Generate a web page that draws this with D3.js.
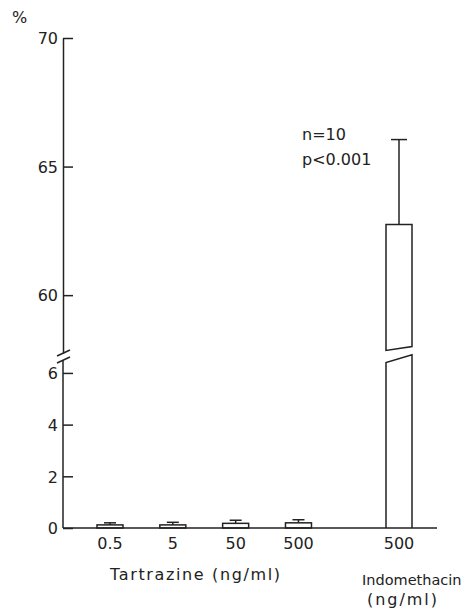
<!DOCTYPE html>
<html>
<head>
<meta charset="utf-8">
<script src="https://cdn.jsdelivr.net/npm/d3@7"></script>
<style>
  body { margin: 0; background: #fff; }
  svg text { font-family: "DejaVu Sans", sans-serif; fill: #222; }
</style>
</head>
<body>
<div id="chart"></div>
<script>

// values (% of response)
var doses = ["0.5", "5", "50", "500", "500"];
var drugs = ["Tartrazine", "Tartrazine", "Tartrazine", "Tartrazine", "Indomethacin"];
var slots = [0, 1, 2, 3, 4.6];
var means = [0.12, 0.12, 0.18, 0.2, 62.75];
var sds = [0.08, 0.1, 0.12, 0.12, 3.3];
var lowTicks = [0, 2, 4, 6];
var highTicks = [60, 65, 70];

// where the big bar is cut (left, right)
var cutLow = [6.4, 6.7];
var cutHigh = [57.85, 58.0];

var width = 461, height = 608;

var svg = d3.select("#chart").append("svg")
  .attr("width", width)
  .attr("height", height);

// two pieces of the broken y axis share the same px per unit
var yLow = d3.scaleLinear().domain([0, 6.5]).range([528, 360]);
var yHigh = d3.scaleLinear().domain([57.75, 70]).range([353, 38]);
function y(v) { return v > 30 ? yHigh(v) : yLow(v); }

var x = d3.scaleLinear().domain([0, 4.6]).range([110, 399]);
var barW = 26;
var ink = "#222";

// lower axis
svg.append("g")
  .attr("transform", "translate(63,0)")
  .call(d3.axisRight(yLow).tickValues(lowTicks).tickFormat(d3.format("d"))
    .tickSize(10).tickSizeOuter(0))
  .call(function(g) { g.select(".domain").attr("d", "M0," + yLow(0) + "V" + yLow(6.5)); });

// upper axis
svg.append("g")
  .attr("transform", "translate(63,0)")
  .call(d3.axisRight(yHigh).tickValues(highTicks).tickFormat(d3.format("d"))
    .tickSize(10).tickSizeOuter(0));

svg.selectAll(".tick text")
  .attr("x", -5)
  .attr("dy", "0.36em")
  .attr("text-anchor", "end")
  .style("font-size", "16px");

svg.selectAll(".domain, .tick line")
  .attr("stroke", ink)
  .attr("stroke-width", 1.5);

// break marks on the axis
[353, 360].forEach(function(yy) {
  svg.append("line")
    .attr("x1", 57).attr("y1", yy + 3)
    .attr("x2", 70).attr("y2", yy - 3)
    .attr("stroke", ink).attr("stroke-width", 1.5);
});

// x axis line, no ticks
svg.append("line")
  .attr("x1", 63).attr("x2", 437)
  .attr("y1", yLow(0)).attr("y2", yLow(0))
  .attr("stroke", ink).attr("stroke-width", 1.5);

svg.append("text")
  .attr("x", 12).attr("y", 23)
  .style("font-size", "16px")
  .text("%");

// bars
means.forEach(function(m, i) {
  var cx = x(slots[i]);
  var x0 = cx - barW / 2, x1 = cx + barW / 2;
  var capW = m > 30 ? 16 : 12;

  if (m > 30) {
    // lower piece up to the cut
    svg.append("path")
      .attr("d", "M" + x0 + "," + yLow(0) + "L" + x0 + "," + yLow(cutLow[0]) +
        "L" + x1 + "," + yLow(cutLow[1]) + "L" + x1 + "," + yLow(0))
      .attr("fill", "none").attr("stroke", ink).attr("stroke-width", 1.5);
    // upper piece from the cut to the mean
    svg.append("path")
      .attr("d", "M" + x0 + "," + yHigh(cutHigh[0]) + "L" + x0 + "," + yHigh(m) +
        "L" + x1 + "," + yHigh(m) + "L" + x1 + "," + yHigh(cutHigh[1]) + "Z")
      .attr("fill", "none").attr("stroke", ink).attr("stroke-width", 1.5);
  } else {
    svg.append("rect")
      .attr("x", x0).attr("width", barW)
      .attr("y", yLow(m)).attr("height", yLow(0) - yLow(m))
      .attr("fill", "none").attr("stroke", ink).attr("stroke-width", 1.5);
  }

  // error bar (mean + SD)
  svg.append("line")
    .attr("x1", cx).attr("x2", cx)
    .attr("y1", y(m)).attr("y2", y(m + sds[i]))
    .attr("stroke", ink).attr("stroke-width", 1.5);
  svg.append("line")
    .attr("x1", cx - capW / 2).attr("x2", cx + capW / 2)
    .attr("y1", y(m + sds[i])).attr("y2", y(m + sds[i]))
    .attr("stroke", ink).attr("stroke-width", 1.5);

  svg.append("text")
    .attr("x", cx).attr("y", 549)
    .attr("text-anchor", "middle")
    .style("font-size", "16px")
    .text(doses[i]);
});

svg.append("text")
  .attr("x", 110).attr("y", 580)
  .attr("textLength", 170)
  .attr("lengthAdjust", "spacing")
  .style("font-size", "16px")
  .text("Tartrazine (ng/ml)");

svg.append("text")
  .attr("x", 362).attr("y", 585)
  .style("font-size", "14.5px")
  .text("Indomethacin");

svg.append("text")
  .attr("x", 367).attr("y", 605)
  .attr("textLength", 70)
  .attr("lengthAdjust", "spacing")
  .style("font-size", "16px")
  .text("(ng/ml)");

svg.append("text")
  .attr("x", 302).attr("y", 140)
  .style("font-size", "16px")
  .text("n=10");

svg.append("text")
  .attr("x", 302).attr("y", 165)
  .style("font-size", "16px")
  .text("p<0.001");

</script>
</body>
</html>
